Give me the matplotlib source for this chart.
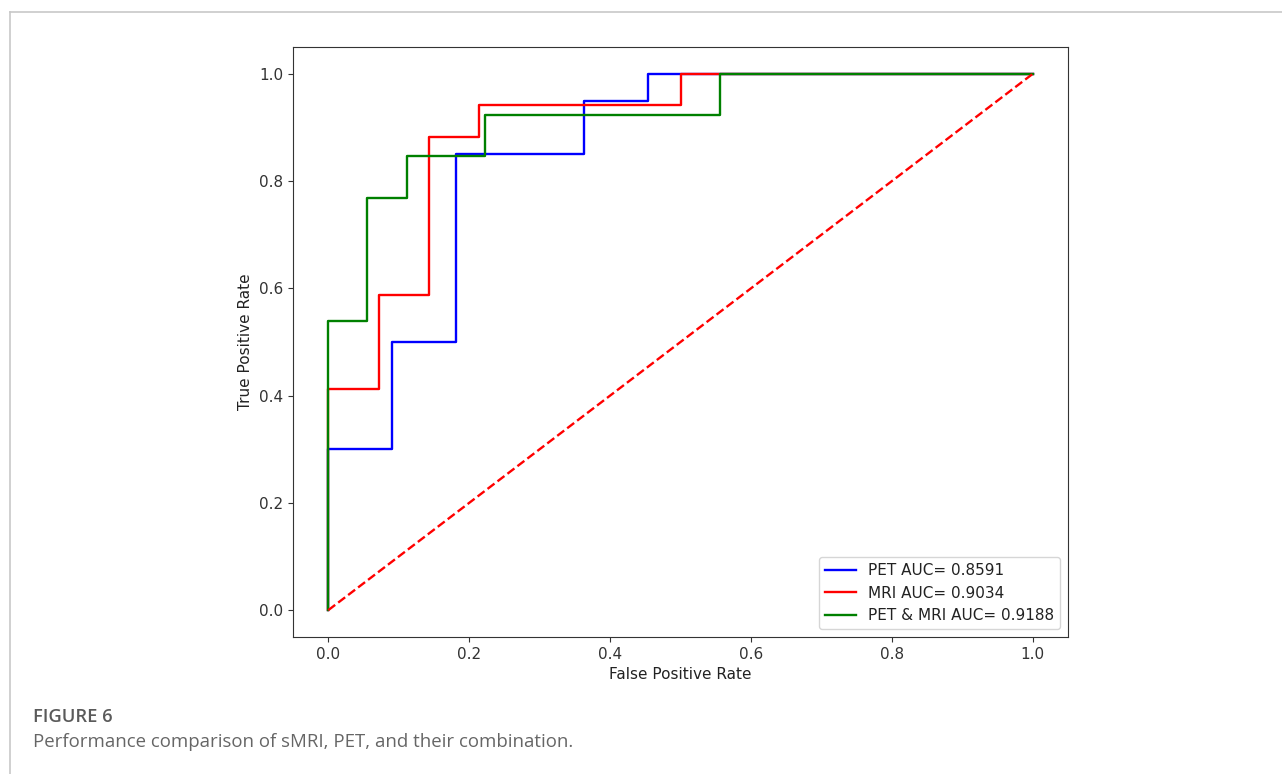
import numpy as np
import matplotlib
matplotlib.use("Agg")
import matplotlib.pyplot as plt
from matplotlib.lines import Line2D

# ROC points
pet_fpr = [0, 0, 1/11, 1/11, 2/11, 2/11, 4/11, 4/11, 5/11, 5/11, 1]
pet_tpr = [0, 0.30, 0.30, 0.50, 0.50, 0.85, 0.85, 0.95, 0.95, 1.0, 1.0]
mri_fpr = [0, 0, 1/14, 1/14, 2/14, 2/14, 3/14, 3/14, 7/14, 7/14, 1]
mri_tpr = [0, 7/17, 7/17, 10/17, 10/17, 15/17, 15/17, 16/17, 16/17, 1.0, 1.0]
both_fpr = [0, 0, 1/18, 1/18, 2/18, 2/18, 4/18, 4/18, 10/18, 10/18, 1]
both_tpr = [0, 7/13, 7/13, 10/13, 10/13, 11/13, 11/13, 12/13, 12/13, 1.0, 1.0]
labels = ["PET AUC= 0.8591", "MRI AUC= 0.9034", "PET & MRI AUC= 0.9188"]

plt.rcParams["font.size"] = 11
plt.rcParams["text.color"] = "#222222"
plt.rcParams["axes.labelcolor"] = "#222222"
plt.rcParams["xtick.color"] = "#333333"
plt.rcParams["ytick.color"] = "#333333"
plt.rcParams["axes.edgecolor"] = "#333333"

fig = plt.figure(figsize=(12.82, 7.74), dpi=100)

# page frame (top and left rule)
fig.add_artist(Line2D([10/1282, 10/1282], [0, 1 - 12/774], color="#c8c8c8", lw=1.2))
fig.add_artist(Line2D([10/1282, 1], [1 - 12/774, 1 - 12/774], color="#c8c8c8", lw=1.2))

ax = fig.add_axes([293/1282, 1 - 637/774, (1068 - 293)/1282, (637 - 47)/774])
ax.plot(pet_fpr, pet_tpr, color="blue", lw=1.7, label=labels[0])
ax.plot(mri_fpr, mri_tpr, color="red", lw=1.7, label=labels[1])
ax.plot(both_fpr, both_tpr, color="green", lw=1.7, label=labels[2])
ax.plot([0, 1], [0, 1], "r--", lw=1.7)
ax.set_xlabel("False Positive Rate")
ax.set_ylabel("True Positive Rate")
ax.legend(loc="lower right")

fig.text(33/1282, 1 - 717/774, "FIGURE 6", family="Open Sans", fontweight="semibold",
         fontsize=13.2, color="#5a5a5a", va="center")
fig.text(33/1282, 1 - 742/774, "Performance comparison of sMRI, PET, and their combination.",
         family="Open Sans", fontsize=13.4, color="#666666", va="center")

fig.savefig("out.png", dpi=100)
